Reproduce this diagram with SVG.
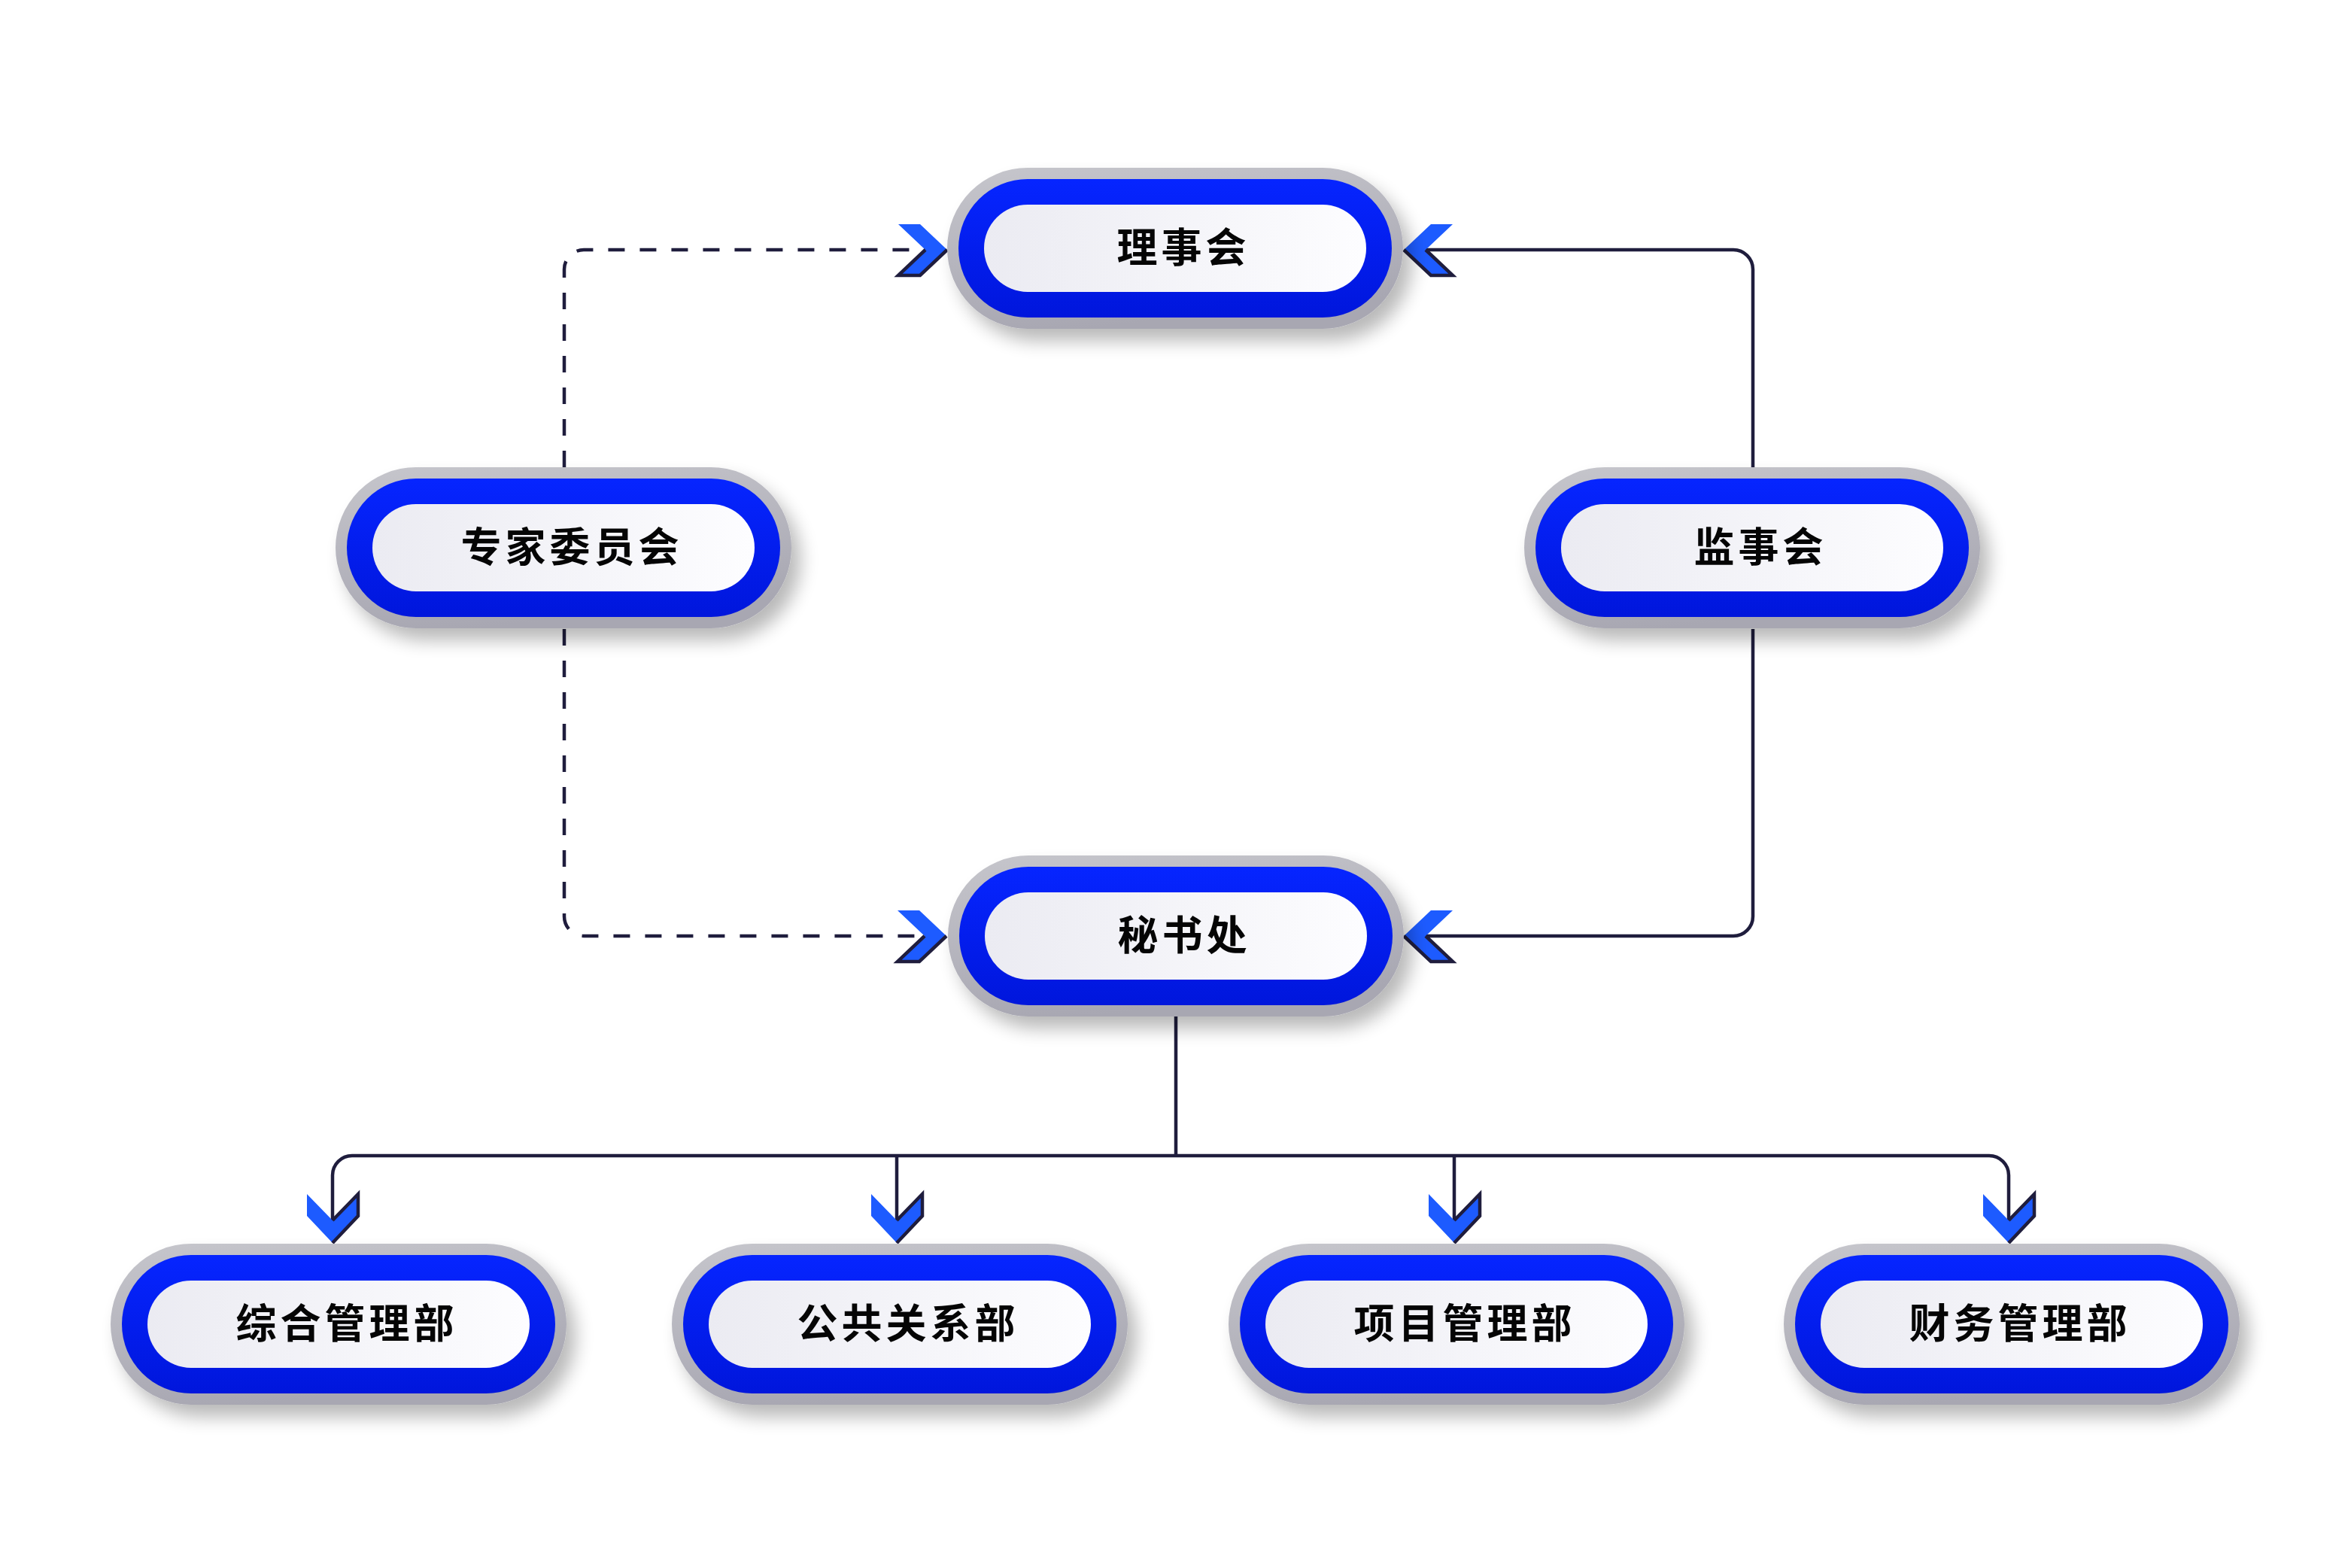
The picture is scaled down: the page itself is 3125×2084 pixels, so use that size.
<svg xmlns="http://www.w3.org/2000/svg" xmlns:xlink="http://www.w3.org/1999/xlink" width="3125" height="2084" viewBox="0 0 3125 2084">
<style>
.conn{fill:none;stroke:#1f1d3d;stroke-width:4.5}
.dash{stroke-dasharray:22 20}
.chev{fill:#1d5bff}
.chev-edge{fill:none;stroke:#1f1d3d;stroke-width:4.5;stroke-linejoin:miter}
.label{font-family:"Noto Sans CJK SC","Noto Sans",sans-serif;font-weight:700;font-size:54px;letter-spacing:5px;fill:#050505;text-anchor:middle;dominant-baseline:central}
</style>
<defs>
<filter id="shadow" x="-20%" y="-40%" width="145%" height="190%">
<feGaussianBlur in="SourceAlpha" stdDeviation="12"/>
<feOffset dx="12" dy="16" result="b"/>
<feComponentTransfer><feFuncA type="linear" slope="0.28"/></feComponentTransfer>
<feMerge><feMergeNode/><feMergeNode in="SourceGraphic"/></feMerge>
</filter>
<linearGradient id="gRing" x1="0" y1="0" x2="0.3" y2="1">
<stop offset="0" stop-color="#c6c6cc"/>
<stop offset="1" stop-color="#a8a7b2"/>
</linearGradient>
<linearGradient id="gBlue" x1="0" y1="0" x2="0" y2="1">
<stop offset="0" stop-color="#0625ff"/>
<stop offset="1" stop-color="#0016dc"/>
</linearGradient>
<linearGradient id="gWhite" x1="0" y1="0" x2="1" y2="0">
<stop offset="0" stop-color="#ebebf2"/>
<stop offset="1" stop-color="#fdfdff"/>
</linearGradient>
<g id="pill">
<rect x="-303" y="-107" width="606" height="214" rx="107" fill="url(#gRing)" filter="url(#shadow)"/>
<rect x="-288" y="-92" width="576" height="184" rx="92" fill="url(#gBlue)"/>
<rect x="-254" y="-58" width="508" height="116" rx="58" fill="url(#gWhite)"/>
</g>
<g id="chevR">
<polygon class="chev" points="-65,-34 -36,-34 0,0 -36,34 -65,34 -29,0"/>
<polyline class="chev-edge" points="-29,0 -65,34 -36,34 0,0"/>
</g>
<g id="chevL">
<polygon class="chev" points="65,-34 36,-34 0,0 36,34 65,34 29,0"/>
<polyline class="chev-edge" points="0,0 36,34 65,34 29,0"/>
</g>
<g id="chevD">
<polygon class="chev" points="-34,-65 0,-30 34,-65 34,-36 0,0 -34,-36"/>
<polyline class="chev-edge" points="0,-30 34,-65 34,-36 0,0"/>
</g>
</defs>
<rect width="3125" height="2084" fill="#ffffff"/>

<g id="connectors">
<path class="conn dash" d="M750,621 V358 A26,26 0 0 1 776,332 H1232"/>
<path class="conn dash" d="M750,836 V1218 A26,26 0 0 0 776,1244 H1230"/>
<path class="conn" d="M2330,621 V358 A26,26 0 0 0 2304,332 H1895"/>
<path class="conn" d="M2330,836 V1218 A26,26 0 0 1 2304,1244 H1895"/>
<path class="conn" d="M1563,1350 V1536"/>
<path class="conn" d="M442,1622 V1562 A26,26 0 0 1 468,1536 H2644 A26,26 0 0 1 2670,1562 V1622"/>
<path class="conn" d="M1192,1536 V1622"/>
<path class="conn" d="M1933,1536 V1622"/>
<use href="#chevR" transform="translate(1259,332)"/>
<use href="#chevL" transform="translate(1866,332)"/>
<use href="#chevR" transform="translate(1258,1244)"/>
<use href="#chevL" transform="translate(1866,1244)"/>
<use href="#chevD" transform="translate(442,1652)"/>
<use href="#chevD" transform="translate(1192,1652)"/>
<use href="#chevD" transform="translate(1933,1652)"/>
<use href="#chevD" transform="translate(2670,1652)"/>
</g>

<g id="node-lishihui" transform="translate(1562,330)">
<use href="#pill"/>
<text class="label" x="11" y="-5">理事会</text>
</g>
<g id="node-zhuanjia" transform="translate(749,728)">
<use href="#pill"/>
<text class="label" x="11" y="-5">专家委员会</text>
</g>
<g id="node-jianshihui" transform="translate(2329,728)">
<use href="#pill"/>
<text class="label" x="11" y="-5">监事会</text>
</g>
<g id="node-mishuchu" transform="translate(1563,1244)">
<use href="#pill"/>
<text class="label" x="11" y="-5">秘书处</text>
</g>
<g id="node-zonghe" transform="translate(450,1760)">
<use href="#pill"/>
<text class="label" x="11" y="-5">综合管理部</text>
</g>
<g id="node-gonggong" transform="translate(1196,1760)">
<use href="#pill"/>
<text class="label" x="11" y="-5">公共关系部</text>
</g>
<g id="node-xiangmu" transform="translate(1936,1760)">
<use href="#pill"/>
<text class="label" x="11" y="-5">项目管理部</text>
</g>
<g id="node-caiwu" transform="translate(2674,1760)">
<use href="#pill"/>
<text class="label" x="11" y="-5">财务管理部</text>
</g>
</svg>
